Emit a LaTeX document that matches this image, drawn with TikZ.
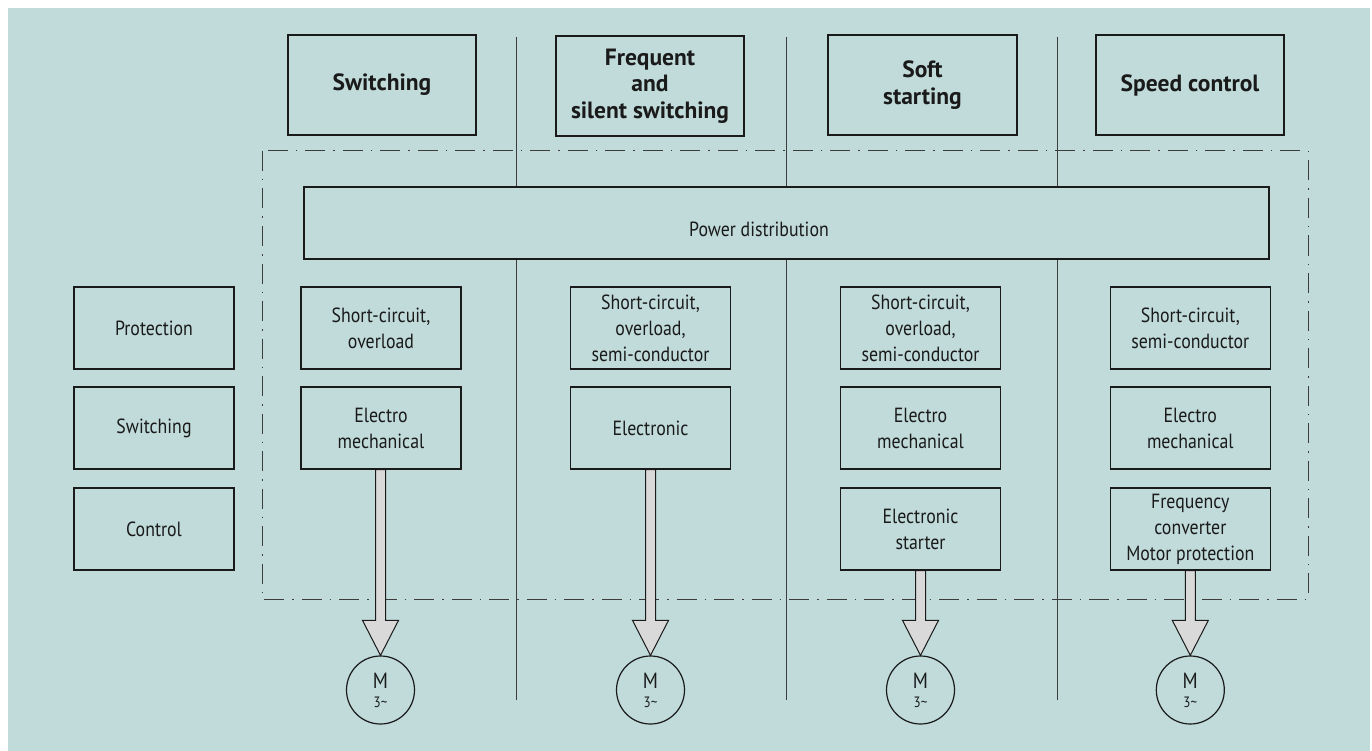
\documentclass[tikz,border=0pt]{standalone}
\usepackage{fontspec}
\setmainfont{PT Sans}[FakeStretch=0.87]
\newfontfamily\hdfont{PT Sans}
\usetikzlibrary{calc}
\definecolor{bg}{RGB}{192,219,218}
\definecolor{ink}{RGB}{26,26,26}
\definecolor{linegray}{RGB}{60,60,60}
\definecolor{arrowfill}{RGB}{217,217,217}
\begin{document}
\begin{tikzpicture}[x=1pt,y=-1pt,
  box/.style={draw=ink, line width=1.2pt, fill=bg, minimum width=160pt, minimum height=82pt,
    inner sep=0pt, align=center, text=ink, font=\fontsize{20.5}{26}\selectfont},
  headbox/.style={box, minimum width=188pt, minimum height=100pt, font=\hdfont\fontsize{23.5}{26.5}\bfseries\selectfont},
  plain/.style={text=ink, inner sep=0pt, font=\fontsize{20.5}{26}\selectfont},
  motor/.style={circle, draw=ink, line width=1.2pt, minimum size=68pt, inner sep=0pt, align=center, text=ink,
    font=\fontsize{22}{20}\selectfont},
  divider/.style={draw=linegray, line width=1pt},
  dashdotframe/.style={draw=linegray, line width=1pt, dash pattern=on 20pt off 8pt on 1.5pt off 8pt},
  fat/.style={draw=ink, line width=1pt, fill=arrowfill, line join=miter}
]
\useasboundingbox (0,0) rectangle (1372,751);
\fill[bg] (8,8) rectangle (1370,751);

% dividers
\coordinate (d1t) at (516,37);  \coordinate (d1b) at (516,700);
\coordinate (d2t) at (786,37);  \coordinate (d2b) at (786,700);
\coordinate (d3t) at (1057,37); \coordinate (d3b) at (1057,700);
\draw[divider] (d1t) -- (d1b);
\draw[divider] (d2t) -- (d2b);
\draw[divider] (d3t) -- (d3b);

% dash-dot frame
\draw[dashdotframe] (262,151) rectangle (1308,599);

% top headers
\node[headbox] (tsw) at (382,85) {Switching};
\node[headbox] (tfr) at (650,86) {Frequent\\and\\silent switching};
\node[headbox, minimum width=189pt] (tso) at (922.5,85) {Soft\\starting};
\node[headbox] (tsp) at (1190,85) {Speed control};

% power distribution
\node[box, minimum width=965pt, minimum height=72pt] (pd) at (786.5,223) {};
\node[plain] (pdt) at (759,229) {Power distribution};

% left labels
\node[box] (pr) at (154,328) {Protection};
\node[box] (sw) at (154,428) {Switching};
\node[box] (co) at (154,529) {Control};

% column 1
\node[box] (c1a) at (381,328) {Short-circuit,\\overload};
\node[box] (c1b) at (381,428) {Electro\\mechanical};
% column 2
\node[box] (c2a) at (650.5,328) {Short-circuit,\\overload,\\semi-conductor};
\node[box] (c2b) at (650.5,428) {Electronic};
% column 3
\node[box] (c3a) at (920.5,328) {Short-circuit,\\overload,\\semi-conductor};
\node[box] (c3b) at (920.5,428) {Electro\\mechanical};
\node[box] (c3c) at (920.5,529) {Electronic\\starter};
% column 4
\node[box] (c4a) at (1190.3,328) {Short-circuit,\\semi-conductor};
\node[box] (c4b) at (1190.3,428) {Electro\\mechanical};
\node[box] (c4c) at (1190.3,529) {Frequency\\converter\\Motor protection};

% motors
\node[motor] (m1) at (380.5,690) {M\\[-1pt]{\fontsize{15}{15}\selectfont 3\textasciitilde}};
\node[motor] (m2) at (650.5,690) {M\\[-1pt]{\fontsize{15}{15}\selectfont 3\textasciitilde}};
\node[motor] (m3) at (920.5,690) {M\\[-1pt]{\fontsize{15}{15}\selectfont 3\textasciitilde}};
\node[motor] (m4) at (1190.3,690) {M\\[-1pt]{\fontsize{15}{15}\selectfont 3\textasciitilde}};

% fat arrows
\foreach \a/\b in {c1b/m1, c2b/m2, c3c/m3, c4c/m4}{
  \draw[fat] let \p1=(\a.south), \p2=(\b.north) in
    (\x2-5pt,\y1) -- (\x2-5pt,\y2+35pt) -- (\x2-18pt,\y2+35pt) -- (\x2,\y2)
    -- (\x2+18pt,\y2+35pt) -- (\x2+5pt,\y2+35pt) -- (\x2+5pt,\y1) -- cycle;
}
\end{tikzpicture}
\end{document}
